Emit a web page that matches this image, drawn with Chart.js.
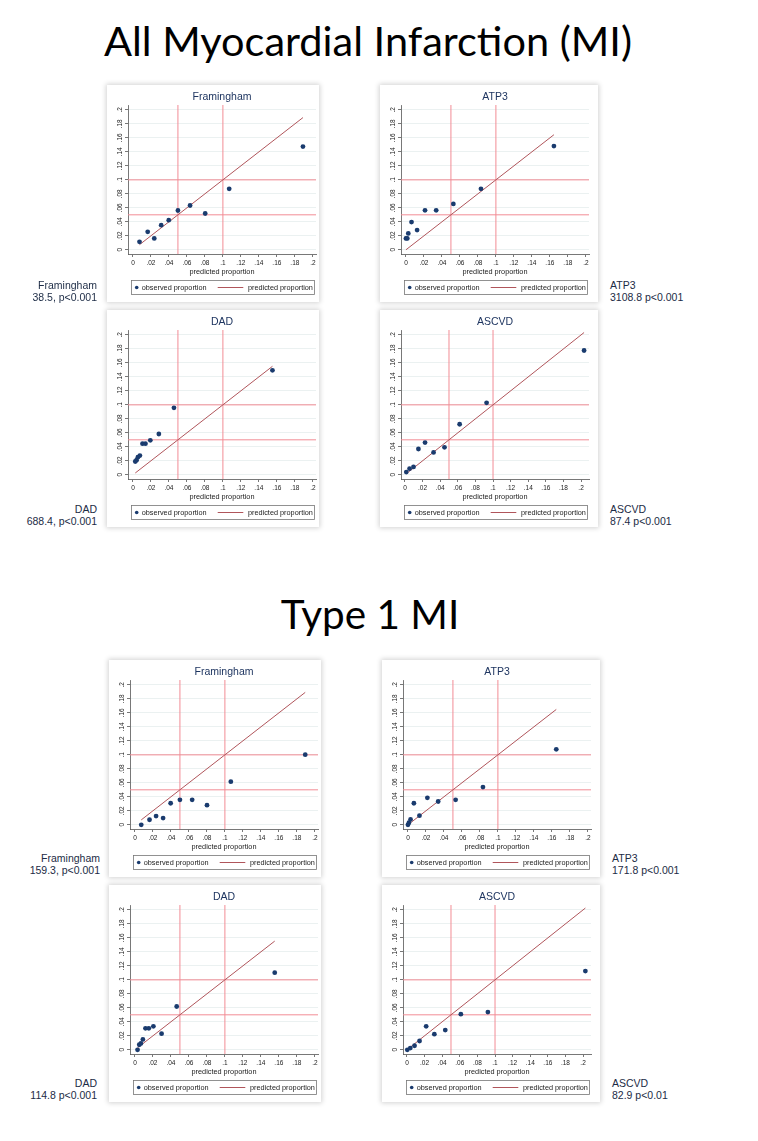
<!DOCTYPE html>
<html>
<head>
<meta charset="utf-8">
<script src="https://cdn.jsdelivr.net/npm/chart.js@4.4.1/dist/chart.umd.min.js"></script>
<style>
    body {
        margin: 0;
        width: 758px;
        height: 1141px;
        background: #fff;
        position: relative;
        overflow: hidden;
        font-family: "Liberation Sans", Arial, sans-serif;
    }
    .heading {
        position: absolute;
        left: 0;
        text-align: center;
        font-family: Lato, sans-serif;
        line-height: 41px;
        color: #000;
    }
    .panel {
        position: absolute;
        height: 217px;
        background: #fff;
        box-shadow: 0 0 5px 1px rgba(0, 0, 0, 0.18);
    }
    .panel canvas {
        position: absolute;
        top: 0;
    }
    .note {
        position: absolute;
        font-size: 10.5px;
        line-height: 12px;
        color: #1c2b45;
        white-space: nowrap;
    }
</style>
</head>
<body>
<div class="heading" style="top:20px;width:736px;font-size:41.5px">All Myocardial Infarction (MI)</div>
<div class="heading" style="top:593px;width:740px;font-size:40.5px">Type 1 MI</div>
<div id="panels"></div>

<script>
// axis ticks shared by every panel
const xTicks = [0, 0.02, 0.04, 0.06, 0.08, 0.1, 0.12, 0.14, 0.16, 0.18, 0.2]
const yTicks = [0, 0.02, 0.04, 0.06, 0.08, 0.1, 0.12, 0.14, 0.16, 0.18, 0.2]
const refLines = [0.05, 0.1]

// All MI
const fraAllPred = [0.0073, 0.0164, 0.0237, 0.0314, 0.0398, 0.0500, 0.0635, 0.0803, 0.1070, 0.1890]
const fraAllObs = [0.0114, 0.0257, 0.0162, 0.0352, 0.0424, 0.0562, 0.0633, 0.0519, 0.0871, 0.1476]
const atpAllPred = [0.0000, 0.0015, 0.0026, 0.0062, 0.0124, 0.0212, 0.0336, 0.0527, 0.0834, 0.1645]
const atpAllObs = [0.0163, 0.0163, 0.0234, 0.0397, 0.0282, 0.0565, 0.0565, 0.0656, 0.0871, 0.1483]
const dadAllPred = [0.0026, 0.0040, 0.0055, 0.0077, 0.0106, 0.0139, 0.0193, 0.0288, 0.0456, 0.1551]
const dadAllObs = [0.0190, 0.0209, 0.0251, 0.0275, 0.0445, 0.0445, 0.0493, 0.0583, 0.0957, 0.1493]
const ascAllPred = [0.0015, 0.0052, 0.0097, 0.0153, 0.0228, 0.0325, 0.0449, 0.0621, 0.0927, 0.2034]
const ascAllObs = [0.0039, 0.0087, 0.0112, 0.0369, 0.0461, 0.0320, 0.0393, 0.0723, 0.1029, 0.1777]

// Type 1 MI
const fraT1Pred = [0.0070, 0.0162, 0.0235, 0.0313, 0.0397, 0.0500, 0.0636, 0.0801, 0.1066, 0.1893]
const fraT1Obs = [0.0000, 0.0072, 0.0125, 0.0096, 0.0308, 0.0357, 0.0357, 0.0280, 0.0617, 0.1002]
const atpT1Pred = [0.0000, 0.0011, 0.0029, 0.0066, 0.0128, 0.0216, 0.0336, 0.0530, 0.0834, 0.1649]
const atpT1Obs = [0.0000, 0.0029, 0.0077, 0.0308, 0.0130, 0.0386, 0.0333, 0.0357, 0.0540, 0.1079]
const dadT1Pred = [0.0029, 0.0048, 0.0066, 0.0088, 0.0117, 0.0154, 0.0205, 0.0296, 0.0464, 0.1554]
const dadT1Obs = [0.0000, 0.0072, 0.0091, 0.0149, 0.0307, 0.0307, 0.0336, 0.0230, 0.0619, 0.1103]
const ascT1Pred = [0.0004, 0.0038, 0.0086, 0.0143, 0.0218, 0.0311, 0.0435, 0.0612, 0.0919, 0.2026]
const ascT1Obs = [0.0000, 0.0024, 0.0058, 0.0126, 0.0335, 0.0223, 0.0282, 0.0510, 0.0539, 0.1126]

const panels = [
    { title: 'Framingham', pred: fraAllPred, obs: fraAllObs, note: ['Framingham', '38.5, p<0.001'], left: 108, top: 85, boxW: 212, side: 'left', noteX: 97, noteY: 279 },
    { title: 'ATP3', pred: atpAllPred, obs: atpAllObs, note: ['ATP3', '3108.8 p<0.001'], left: 381, top: 85, boxW: 218, side: 'right', noteX: 610, noteY: 279 },
    { title: 'DAD', pred: dadAllPred, obs: dadAllObs, note: ['DAD', '688.4, p<0.001'], left: 108, top: 310, boxW: 212, side: 'left', noteX: 97, noteY: 503 },
    { title: 'ASCVD', pred: ascAllPred, obs: ascAllObs, note: ['ASCVD', '87.4 p<0.001'], left: 381, top: 310, boxW: 218, side: 'right', noteX: 610, noteY: 503, xMax: 0.209, xMin: -0.0045 },
    { title: 'Framingham', pred: fraT1Pred, obs: fraT1Obs, note: ['Framingham', '159.3, p<0.001'], left: 110, top: 660, boxW: 212, side: 'left', noteX: 100, noteY: 852 },
    { title: 'ATP3', pred: atpT1Pred, obs: atpT1Obs, note: ['ATP3', '171.8 p<0.001'], left: 383, top: 660, boxW: 218, side: 'right', noteX: 612, noteY: 852 },
    { title: 'DAD', pred: dadT1Pred, obs: dadT1Obs, note: ['DAD', '114.8 p<0.001'], left: 110, top: 885, boxW: 212, side: 'left', noteX: 97, noteY: 1077 },
    { title: 'ASCVD', pred: ascT1Pred, obs: ascT1Obs, note: ['ASCVD', '82.9 p<0.01'], left: 383, top: 885, boxW: 218, side: 'right', noteX: 612, noteY: 1077, xMax: 0.209, xMin: -0.0045 },
]

const NAVY = '#1a3b6e'
const MAROON = '#b0555b'
const PINK = '#f28c95'
const AXIS = '#555'
const TEXT = '#222'

const fmt = v => v === 0 ? '0' : String(+v.toFixed(2)).replace(/^0/, '')

// Stata style legend box under the plot
const stataLegend = {
    id: 'stataLegend',
    afterDraw(chart) {
        const { ctx, chartArea } = chart
        const ds = chart.data.datasets
        const x0 = Math.round(chartArea.left) + 3
        const x1 = Math.round(chartArea.right) - 2
        const y0 = chart.height - 22
        const h = 14
        const cy = y0 + h / 2
        ctx.save()
        ctx.strokeStyle = '#777'
        ctx.lineWidth = 0.8
        ctx.strokeRect(x0 + 0.5, y0 + 0.5, x1 - x0, h)
        ctx.fillStyle = ds[0].backgroundColor
        ctx.beginPath()
        ctx.arc(x0 + 5.7, cy + 0.5, 1.8, 0, Math.PI * 2)
        ctx.fill()
        ctx.font = '7.3px "Liberation Sans", Arial'
        ctx.fillStyle = TEXT
        ctx.textBaseline = 'middle'
        ctx.fillText(ds[0].label, x0 + 10.7, cy + 0.5)
        ctx.strokeStyle = ds[1].borderColor
        ctx.lineWidth = 1
        ctx.beginPath()
        ctx.moveTo(x0 + 86.7, cy + 0.5)
        ctx.lineTo(x0 + 112.3, cy + 0.5)
        ctx.stroke()
        ctx.fillText(ds[1].label, x0 + 117, cy + 0.5)
        ctx.restore()
    }
}

const makePanel = (p) => {
    const host = document.getElementById('panels')
    const box = document.createElement('div')
    box.className = 'panel'
    box.style.left = (p.left - 1) + 'px'
    box.style.top = p.top + 'px'
    box.style.width = p.boxW + 'px'
    const canvas = document.createElement('canvas')
    canvas.width = 212
    canvas.height = 217
    canvas.style.left = '1px'
    box.appendChild(canvas)
    host.appendChild(box)

    const note = document.createElement('div')
    note.className = 'note'
    note.innerHTML = p.note.join('<br>')
    note.style.top = p.noteY + 'px'
    if (p.side === 'left') {
        note.style.right = (758 - p.noteX) + 'px'
        note.style.textAlign = 'right'
    } else {
        note.style.left = p.noteX + 'px'
    }
    document.body.appendChild(note)

    const xMin = p.xMin ?? -0.0055
    const xMax = p.xMax ?? 0.2035
    const yMin = -0.006
    const yMax = 0.207
    const lo = Math.min(...p.pred)
    const hi = Math.max(...p.pred)

    const refSets = [
        ...refLines.map(v => ({ data: [{ x: v, y: yMin }, { x: v, y: yMax }] })),
        ...refLines.map(v => ({ data: [{ x: xMin, y: v }, { x: xMax, y: v }] })),
    ].map(d => ({
        ...d,
        showLine: true,
        borderColor: PINK,
        borderWidth: 1,
        pointRadius: 0,
    }))

    return new Chart(canvas, {
        type: 'scatter',
        data: {
            datasets: [{
                    label: 'observed proportion',
                    data: p.pred.map((x, i) => ({ x: x, y: p.obs[i] })),
                    backgroundColor: NAVY,
                    borderWidth: 0,
                    pointRadius: 2.4,
                },
                {
                    label: 'predicted proportion',
                    data: [{ x: lo, y: lo }, { x: hi, y: hi }],
                    showLine: true,
                    borderColor: MAROON,
                    borderWidth: 1,
                    pointRadius: 0,
                },
                ...refSets
            ]
        },
        options: {
            responsive: false,
            animation: false,
            layout: {
                padding: { left: 6, right: 1, top: 0, bottom: 24 }
            },
            scales: {
                x: {
                    type: 'linear',
                    min: xMin,
                    max: xMax,
                    afterBuildTicks: s => { s.ticks = xTicks.map(v => ({ value: v })) },
                    afterFit: s => {
                        s.height = 24
                        s.paddingLeft = 0
                        s.paddingRight = 0
                    },
                    ticks: {
                        callback: v => fmt(v),
                        font: { size: 6.5, family: '"Liberation Sans", Arial' },
                        color: TEXT,
                        padding: 2,
                        maxRotation: 0,
                        autoSkip: false,
                    },
                    grid: {
                        drawOnChartArea: false,
                        tickLength: 3,
                        tickColor: AXIS,
                        tickWidth: 0.8,
                    },
                    border: { display: true, color: AXIS, width: 0.8 },
                    title: {
                        display: true,
                        text: 'predicted proportion',
                        font: { size: 7.3, family: '"Liberation Sans", Arial' },
                        color: TEXT,
                        padding: { top: 0, bottom: 2 },
                    }
                },
                y: {
                    type: 'linear',
                    min: yMin,
                    max: yMax,
                    afterBuildTicks: s => { s.ticks = yTicks.map(v => ({ value: v })) },
                    afterFit: s => {
                        s.width = 14
                        s.paddingTop = 0
                        s.paddingBottom = 0
                    },
                    ticks: {
                        callback: v => fmt(v),
                        font: { size: 6.5, family: '"Liberation Sans", Arial' },
                        color: TEXT,
                        padding: 0,
                        minRotation: 90,
                        maxRotation: 90,
                        crossAlign: 'center',
                        autoSkip: false,
                    },
                    grid: {
                        color: '#e6eded',
                        lineWidth: 0.8,
                        tickLength: 3,
                        tickColor: AXIS,
                        tickWidth: 0.8,
                    },
                    border: { display: true, color: AXIS, width: 0.8 },
                }
            },
            plugins: {
                legend: { display: false },
                tooltip: { enabled: false },
                title: {
                    display: true,
                    fullSize: false,
                    text: p.title,
                    color: '#1e3560',
                    font: { size: 10.5, weight: 'normal', family: '"Liberation Sans", Arial' },
                    padding: { top: 5.7, bottom: 1.7 },
                }
            }
        },
        plugins: [stataLegend]
    })
}

panels.forEach(p => makePanel(p))
</script>
</body>
</html>
